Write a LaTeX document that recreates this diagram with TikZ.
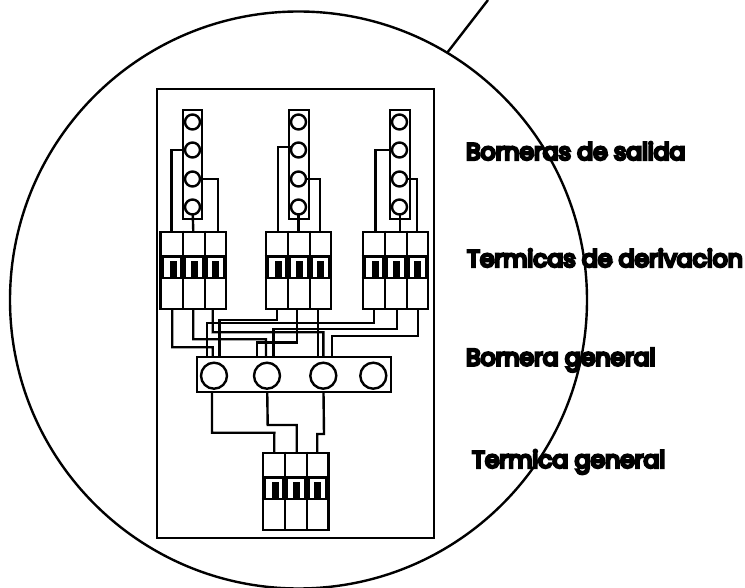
\documentclass[tikz,border=0pt]{standalone}
\usepackage{fontspec}
\usetikzlibrary{backgrounds,calc}
\newfontfamily\lblfont[FakeBold=11]{Poppins}
\tikzset{
  ln/.style={draw=black,line width=2.4pt},
  wire/.style={ln,line cap=rect,line join=miter},
  stud/.style={ln,circle,fill=white,inner sep=0pt,minimum size=15pt},
  bigstud/.style={ln,circle,fill=white,inner sep=0pt,minimum size=26pt},
  strip/.style={ln,rectangle,inner sep=0pt,minimum width=19.5pt,minimum height=109pt},
  breaker/.style={ln,rectangle,fill=white,inner sep=0pt,minimum width=65.5pt,minimum height=77.5pt},
  lbl/.style={anchor=west,inner sep=0pt,font=\lblfont\fontsize{23.5}{25}\selectfont}
}
\newcommand{\brkparts}[1]{%
  \draw[ln] ([xshift=-10.5pt]#1.north) -- ([xshift=-10.5pt]#1.south);
  \draw[ln] ([xshift=11.5pt]#1.north) -- ([xshift=11.5pt]#1.south);
  \draw[ln] ([yshift=-26pt]#1.north west) -- ([yshift=-26pt]#1.north east);
  \draw[ln] ([yshift=-47.5pt]#1.north west) -- ([yshift=-47.5pt]#1.north east);
  \foreach \dx in {-20,1,22}{
    \fill[black] ($(#1.north)+(\dx-3.6,30.5)$) rectangle ++(7.2,16);
  }
  \foreach \dx in {-30.5,-12.7,-8.3,9.3,13.7,30.5}{
    \fill[black] ($(#1.north)+(\dx-1,26)$) rectangle ++(2,21.5);
  }
}
\begin{document}
\begin{tikzpicture}[x=1pt,y=-1pt]
\useasboundingbox (0,0) rectangle (745,588);
\begin{scope}[on background layer]
\fill[white] (0,0) rectangle (745,588);
\end{scope}
\coordinate (tail) at (488,0);
\coordinate (tailfoot) at (447,53);
% panel
\node[ln,rectangle,inner sep=0pt,minimum width=277pt,minimum height=449pt] (panel) at (295.5,313.5) {};
% outlet strips
\node[strip] (S1) at (192.5,164.5) {};
\node[strip] (S2) at (299,164.5) {};
\node[strip] (S3) at (400,164.5) {};
\foreach \s/\x in {1/192.5,2/298.5,3/399.5}{
  \node[stud] (T\s a) at (\x,122) {};
  \node[stud] (T\s b) at (\x,150) {};
  \node[stud] (T\s c) at (\x,179) {};
  \node[stud] (T\s d) at (\x,207) {};
}
% breakers
\node[breaker] (B1) at (193.25,270.5) {};
\node[breaker] (B2) at (298.5,270.5) {};
\node[breaker] (B3) at (395.5,270.5) {};
\node[breaker] (BG) at (295.75,491.5) {};
\brkparts{B1}\brkparts{B2}\brkparts{B3}\brkparts{BG}
% general terminal block
\node[ln,rectangle,fill=white,inner sep=0pt,minimum width=194pt,minimum height=34.5pt] (GB) at (293.7,374.5) {};
\node[bigstud] (C1) at (214,375.7) {};
\node[bigstud] (C2) at (267,375.7) {};
\node[bigstud] (C3) at (323.3,375.7) {};
\node[bigstud] (C4) at (373.3,375.7) {};
\begin{scope}[on background layer]
% upper wires
\draw[wire] ([xshift=-21.7pt]B1.north) |- (T1b);
\draw[wire] (B1.north) -- (T1d);
\draw[wire] ([xshift=24.5pt]B1.north) |- (T1c);
\draw[wire] ([xshift=-20.8pt]B2.north) |- ($(T2b)+(0,-3)$);
\draw[wire] (B2.north) -- (T2d);
\draw[wire] ([xshift=21.5pt]B2.north) |- (T2c);
\draw[wire] ([xshift=-20.2pt]B3.north) |- (T3b);
\draw[wire] ([xshift=4.5pt]B3.north) -- ([xshift=0.5pt]T3d.center);
\draw[wire] ([xshift=21.5pt]B3.north) |- (T3c);
% lower wires
\draw[wire] ([xshift=-21pt]B1.south) -- (172.3,347.3) -- (212.7,347.3) -- (212.7,375);
\draw[wire] (B1.south) -- (193.3,339.3) -- (266,339.3) -- (266,375);
\draw[wire] ([xshift=19.5pt]B1.south) -- (212.7,332.3) -- (323.3,332.3) -- (323.3,375);
\draw[wire] ([xshift=-21.8pt]B2.south) -- (276.7,320) -- (219.3,320) -- (219.3,375);
\draw[wire] ([xshift=-1.5pt]B2.south) -- (297,342.7) -- (256.7,342.7) -- (256.7,375);
\draw[wire] ([xshift=19.2pt]B2.south) -- (317.7,375);
\draw[wire] ([xshift=-21.5pt]B3.south) -- (374,323.3) -- (206.7,323.3) -- (206.7,375);
\draw[wire] ([xshift=1.2pt]B3.south) -- (396.7,329.3) -- (273.3,329.3) -- (273.3,375);
\draw[wire] ([xshift=22.5pt]B3.south) -- (418,336) -- (331.7,336) -- (331.7,375);
% feed wires
\draw[wire] (C1) -- (212,375.7) -- (212,432.7) -- (274.3,432.7) -- ([xshift=-21.5pt]BG.north);
\draw[wire] (C2) -- (267.7,425) -- (296.7,425) -- ([xshift=1pt]BG.north);
\draw[wire] (C3) -- (324,434) -- (317.3,434) -- ([xshift=21.5pt]BG.north);
\end{scope}
% magnifier
\draw[ln] (298.5,300) circle (288.5);
\draw[ln] (tailfoot) -- (tail);
% labels
\node[lbl] (L1) at (466,151) {Borneras de salida};
\node[lbl] (L2) at (467,258) {Termicas de derivacion};
\node[lbl] (L3) at (466,360) {Bornera general};
\node[lbl] (L4) at (472,462) {Termica general};
\end{tikzpicture}
\end{document}
